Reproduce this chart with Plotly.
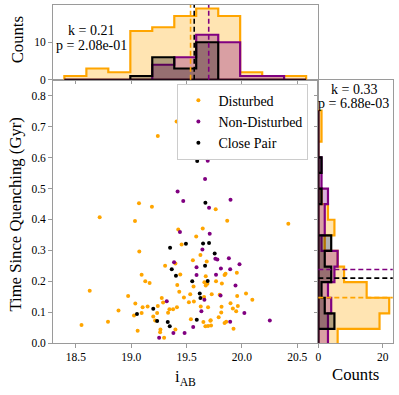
import plotly.graph_objects as go

W, H = 399, 395

# ---------------- data ----------------
dist_mag = [19.070, 19.187, 19.763, 18.715, 19.034, 19.867, 20.419, 19.425, 19.646, 19.587,
            19.455, 19.073, 19.625, 19.557, 19.682, 19.399, 19.306, 19.954, 19.094, 19.443,
            19.843, 19.852, 19.673, 19.127, 19.166, 19.661, 19.688, 19.766, 19.819, 19.563,
            19.673, 19.416, 18.625, 19.434, 18.972, 19.533, 19.727, 19.799, 20.037, 19.037,
            19.957, 19.276, 19.476, 19.658, 20.094, 19.521, 19.566, 19.288, 19.103, 19.148,
            19.240, 19.413, 19.628, 19.694, 19.816, 19.897, 19.963, 19.345, 19.378, 19.333,
            18.885, 19.918, 19.094, 19.234, 19.813, 19.025, 19.199, 19.948, 19.539, 19.718,
            19.790, 19.216, 18.790, 19.652, 19.715, 19.858, 19.843, 18.551, 19.670, 19.694,
            19.721, 19.399, 19.058, 19.264, 19.924, 19.261, 19.297, 19.410, 19.240]
dist_tsq = [0.452, 0.441, 0.433, 0.407, 0.395, 0.396, 0.386, 0.367, 0.371, 0.345,
            0.319, 0.296, 0.285, 0.268, 0.264, 0.257, 0.250, 0.227, 0.221, 0.222,
            0.220, 0.224, 0.216, 0.200, 0.194, 0.197, 0.192, 0.200, 0.193, 0.183,
            0.186, 0.188, 0.169, 0.166, 0.152, 0.158, 0.158, 0.156, 0.160, 0.128,
            0.152, 0.146, 0.147, 0.149, 0.140, 0.132, 0.134, 0.131, 0.116, 0.118,
            0.120, 0.116, 0.118, 0.116, 0.117, 0.129, 0.120, 0.109, 0.109, 0.098,
            0.105, 0.112, 0.097, 0.097, 0.099, 0.089, 0.086, 0.103, 0.077, 0.074,
            0.083, 0.073, 0.069, 0.068, 0.072, 0.069, 0.065, 0.058, 0.054, 0.055,
            0.057, 0.044, 0.040, 0.044, 0.046, 0.035, 0.017, 0.717, 0.670]

nondist_mag = [19.691, 19.667, 19.419, 19.470, 19.897, 19.703, 19.440, 19.709, 19.643, 19.760,
               19.778, 19.882, 19.387, 19.590, 19.978, 19.810, 19.894, 19.590, 19.766, 19.942,
               19.807, 19.661, 19.321, 19.634, 20.022, 19.894, 20.252, 19.560, 19.381, 19.482,
               19.252]
nondist_tsq = [0.590, 0.531, 0.490, 0.460, 0.464, 0.438, 0.359, 0.354, 0.303, 0.273,
               0.270, 0.274, 0.261, 0.245, 0.255, 0.241, 0.239, 0.220, 0.221, 0.186,
               0.154, 0.140, 0.135, 0.103, 0.097, 0.069, 0.073, 0.052, 0.032, 0.032,
               0.017]

pair_mag = [19.596, 19.670, 19.351, 19.494, 19.649, 19.703, 19.754, 19.667, 19.366, 19.404,
            19.551, 19.691, 19.619, 19.625, 19.199, 19.052, 19.592, 19.234, 19.330, 19.348]
pair_tsq = [0.589, 0.454, 0.308, 0.321, 0.322, 0.324, 0.290, 0.250, 0.239, 0.218,
            0.200, 0.201, 0.160, 0.146, 0.111, 0.094, 0.075, 0.071, 0.068, 0.054]

# histogram of i_AB (top panel)
mag_edges = [18.396, 18.595, 18.793, 18.992, 19.190, 19.389, 19.587, 19.786,
             19.984, 20.183, 20.381, 20.580]
mag_counts_dist = [1, 3, 2, 13, 14, 17, 19, 17, 2, 1, 1]
mag_counts_nondist = [0, 0, 0, 0, 4, 6, 12, 10, 1, 1, 0]
mag_counts_pair = [0, 0, 0, 1, 6, 3, 10, 0, 0, 0, 0]

# histogram of time since quenching (right panel)
tsq_edges = [-0.005, 0.0455, 0.096, 0.1465, 0.197, 0.2475, 0.298, 0.3485, 0.399,
             0.4495, 0.500, 0.5505, 0.601, 0.6515, 0.702, 0.7525]
tsq_counts_dist = [6, 19, 22, 15, 8, 6, 2, 5, 3, 1, 0, 0, 0, 1, 1]
tsq_counts_nondist = [3, 3, 4, 3, 5, 6, 1, 2, 2, 3, 1, 1, 0, 0, 0]
tsq_counts_pair = [0, 5, 2, 1, 4, 2, 4, 0, 0, 1, 0, 1, 0, 0, 0]

# medians (dashed lines)
median_mag = {"dist": 19.536, "nondist": 19.700, "pair": 19.569}
median_tsq = {"dist": 0.147, "nondist": 0.238, "pair": 0.210}

stat_top = ["k = 0.21", "p = 2.08e-01"]
stat_right = ["k = 0.33", "p = 6.88e-03"]

mag_ticks = [18.5, 19.0, 19.5, 20.0, 20.5]
tsq_ticks = [0.0, 0.1, 0.2, 0.3, 0.4, 0.5, 0.6, 0.7, 0.8]

# ---------------- style ----------------
FONT = "Liberation Serif, Times New Roman, serif"
ORANGE = "#FFA500"
PURPLE = "#800080"
BLACK = "#000000"
SPINE = "#9a9a9a"
fills = {"dist": "rgba(255,165,0,0.3)", "nondist": "rgba(128,0,128,0.3)",
         "pair": "rgba(0,0,0,0.3)"}
lines = {"dist": ORANGE, "nondist": PURPLE, "pair": BLACK}


def px_x(p):
    return p / W


def px_y(p):
    return 1 - p / H


def step_outline(edges, counts):
    a = [edges[0]]
    b = [0]
    for i, c in enumerate(counts):
        a += [edges[i], edges[i + 1]]
        b += [c, c]
    a += [edges[-1], edges[0]]
    b += [0, 0]
    return a, b


fig = go.Figure()

# main scatter
for name, key, xs, ys in [("Disturbed", "dist", dist_mag, dist_tsq),
                          ("Non-Disturbed", "nondist", nondist_mag, nondist_tsq),
                          ("Close Pair", "pair", pair_mag, pair_tsq)]:
    fig.add_trace(go.Scatter(x=xs, y=ys, mode="markers", name=name,
                             marker=dict(color=lines[key], size=4, line=dict(width=0)),
                             xaxis="x", yaxis="y"))

# top histograms
for key, counts in [("dist", mag_counts_dist), ("nondist", mag_counts_nondist),
                    ("pair", mag_counts_pair)]:
    a, b = step_outline(mag_edges, counts)
    fig.add_trace(go.Scatter(x=a, y=b, mode="lines", fill="toself",
                             fillcolor=fills[key], line=dict(color=lines[key], width=2.2),
                             showlegend=False, hoverinfo="skip",
                             xaxis="x2", yaxis="y2"))

# right histograms
for key, counts in [("dist", tsq_counts_dist), ("nondist", tsq_counts_nondist),
                    ("pair", tsq_counts_pair)]:
    a, b = step_outline(tsq_edges, counts)
    fig.add_trace(go.Scatter(x=b, y=a, mode="lines", fill="toself",
                             fillcolor=fills[key], line=dict(color=lines[key], width=2.2),
                             showlegend=False, hoverinfo="skip",
                             xaxis="x3", yaxis="y3"))

shapes = []
for key in ["dist", "pair", "nondist"]:
    shapes.append(dict(type="line", xref="x2", yref="y2 domain",
                       x0=median_mag[key], x1=median_mag[key], y0=0, y1=1,
                       line=dict(color=lines[key], width=1.6, dash="5px,3px")))
    shapes.append(dict(type="line", xref="x3 domain", yref="y3",
                       x0=0, x1=1, y0=median_tsq[key], y1=median_tsq[key],
                       line=dict(color=lines[key], width=1.6, dash="5px,3px")))

XD_MAIN = [px_x(50), px_x(317.7)]
XD_RIGHT = [px_x(317.7), px_x(392.7)]
YD_MAIN = [px_y(348.3), px_y(81)]
YD_TOP = [px_y(81), px_y(5)]

tickfont = dict(family=FONT, size=11.5, color="black")
axis_common = dict(showline=True, linecolor=SPINE, linewidth=1, mirror=True,
                   ticks="outside", ticklen=3.5, tickwidth=1, tickcolor=SPINE,
                   showgrid=False, zeroline=False, tickfont=tickfont)

fig.update_layout(
    width=W, height=H, margin=dict(l=0, r=0, t=0, b=0),
    paper_bgcolor="white", plot_bgcolor="white",
    font=dict(family=FONT, color="black"),
    xaxis=dict(domain=XD_MAIN, anchor="y", range=[18.29, 20.69],
               tickvals=mag_ticks, ticktext=[f"{v:.1f}" for v in mag_ticks], **axis_common),
    yaxis=dict(domain=YD_MAIN, anchor="x", range=[0, 0.852],
               tickvals=tsq_ticks, ticktext=[f"{v:.1f}" for v in tsq_ticks], **axis_common),
    xaxis2=dict(domain=XD_MAIN, anchor="y2", range=[18.29, 20.69],
                tickvals=mag_ticks, showticklabels=False, **axis_common),
    yaxis2=dict(domain=YD_TOP, anchor="x2", range=[0, 19.95],
                tickvals=[0, 10], **axis_common),
    xaxis3=dict(domain=XD_RIGHT, anchor="y3", range=[0, 23.1],
                tickvals=[0, 20], **axis_common),
    yaxis3=dict(domain=YD_MAIN, anchor="x3", range=[0, 0.852],
                tickvals=tsq_ticks, showticklabels=False, **axis_common),
    shapes=shapes,
    showlegend=True,
    legend=dict(x=px_x(175.7), y=px_y(85), xanchor="left", yanchor="top",
                bgcolor="rgba(255,255,255,0.85)", bordercolor="#cccccc", borderwidth=1,
                font=dict(family=FONT, size=14, color="black"),
                tracegroupgap=0),
)

ann = []


def text(x, y, s, size, angle=0):
    ann.append(dict(xref="paper", yref="paper", x=px_x(x), y=px_y(y), text=s,
                    showarrow=False, xanchor="center", yanchor="middle",
                    textangle=angle, font=dict(family=FONT, size=size, color="black")))


text(88.7, 31.2, stat_top[0], 14)
text(89, 45.7, stat_top[1], 14)
text(353.3, 91, stat_right[0], 14)
text(353, 105.5, stat_right[1], 14)
text(14, 40, "Counts", 16.7, -90)
text(13, 217, "Time Since Quenching (Gyr)", 16.7, -90)
text(183.5, 384, "i<sub>AB</sub>", 16.7)
text(355.3, 380, "Counts", 16.7)
fig.update_layout(annotations=ann)

fig.write_html("out.html", config={"displayModeBar": False},
               post_script="document.body.style.margin='0';document.body.style.padding='0';")
